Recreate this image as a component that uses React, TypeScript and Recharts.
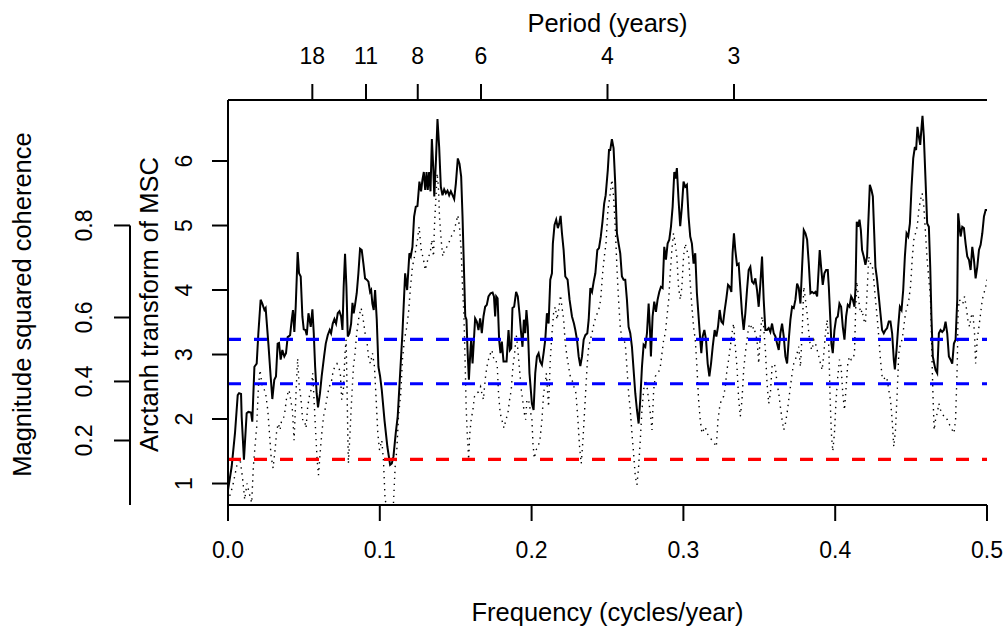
import React from 'react';
import { LineChart, Line, XAxis, YAxis, ReferenceLine } from 'recharts';

// Coherence (arctanh-transformed MSC) vs frequency: [frequency, value]
const solidPoints: [number, number][] = [
  [0.0000,0.90],[0.0024,1.26],[0.0046,1.78],[0.0064,2.37],[0.0073,2.40],[0.0086,2.39],[0.0090,2.04],[0.0105,1.37],
  [0.0123,2.09],[0.0134,2.11],[0.0152,2.10],[0.0160,1.96],[0.0174,2.81],[0.0189,2.86],[0.0200,3.33],[0.0215,3.85],
  [0.0226,3.79],[0.0240,3.69],[0.0248,3.72],[0.0266,3.17],[0.0281,2.66],[0.0292,2.31],[0.0305,2.61],[0.0316,2.66],
  [0.0327,3.17],[0.0336,3.18],[0.0347,2.92],[0.0358,3.07],[0.0371,2.97],[0.0382,3.02],[0.0393,3.27],[0.0409,3.30],
  [0.0420,3.54],[0.0428,3.69],[0.0437,3.35],[0.0446,3.74],[0.0459,4.59],[0.0468,4.26],[0.0479,4.21],[0.0490,3.59],
  [0.0499,3.39],[0.0510,3.38],[0.0519,3.30],[0.0530,3.64],[0.0536,3.56],[0.0545,3.43],[0.0556,3.70],[0.0565,3.33],
  [0.0574,2.81],[0.0584,2.40],[0.0593,2.18],[0.0606,2.40],[0.0617,2.66],[0.0633,2.97],[0.0644,3.17],[0.0657,3.30],
  [0.0670,3.38],[0.0679,3.33],[0.0690,3.48],[0.0701,3.55],[0.0712,3.48],[0.0723,3.64],[0.0734,3.67],[0.0745,3.59],
  [0.0754,3.38],[0.0762,4.05],[0.0771,4.56],[0.0780,4.05],[0.0789,3.28],[0.0800,3.33],[0.0811,3.48],[0.0820,3.80],
  [0.0828,3.64],[0.0837,3.77],[0.0848,3.95],[0.0859,4.26],[0.0870,4.64],[0.0881,4.62],[0.0892,4.41],[0.0903,4.18],
  [0.0914,4.16],[0.0925,4.13],[0.0936,3.97],[0.0943,4.00],[0.0951,3.79],[0.0960,3.69],[0.0969,4.00],[0.0980,3.54],
  [0.0991,2.81],[0.1002,2.66],[0.1013,2.45],[0.1031,1.98],[0.1050,1.57],[0.1068,1.29],[0.1079,1.31],[0.1090,1.42],
  [0.1105,1.78],[0.1118,2.04],[0.1134,2.71],[0.1149,3.33],[0.1167,4.26],[0.1180,4.00],[0.1195,4.57],[0.1204,4.52],
  [0.1215,4.67],[0.1226,5.14],[0.1237,5.29],[0.1248,5.30],[0.1261,5.68],[0.1272,5.53],[0.1281,5.71],[0.1290,5.83],
  [0.1299,5.55],[0.1308,5.83],[0.1316,5.55],[0.1325,5.83],[0.1334,5.53],[0.1343,6.34],[0.1352,5.91],[0.1359,5.45],
  [0.1370,6.02],[0.1380,6.65],[0.1391,6.22],[0.1402,5.60],[0.1413,5.47],[0.1424,5.56],[0.1435,5.50],[0.1446,5.54],
  [0.1457,5.47],[0.1468,5.53],[0.1479,5.47],[0.1490,5.41],[0.1501,5.65],[0.1514,6.04],[0.1525,5.96],[0.1536,5.76],
  [0.1545,5.14],[0.1554,4.36],[0.1563,3.59],[0.1571,3.54],[0.1578,3.07],[0.1587,2.61],[0.1596,3.02],[0.1602,3.23],
  [0.1611,2.86],[0.1620,3.23],[0.1628,3.56],[0.1639,3.51],[0.1650,3.38],[0.1661,3.56],[0.1672,3.33],[0.1683,3.59],
  [0.1694,3.74],[0.1705,3.77],[0.1716,3.90],[0.1730,3.95],[0.1743,3.96],[0.1752,3.90],[0.1760,3.59],[0.1767,3.90],
  [0.1776,3.87],[0.1786,3.23],[0.1795,3.02],[0.1804,3.20],[0.1815,2.89],[0.1826,2.89],[0.1835,2.89],[0.1848,3.38],
  [0.1857,3.07],[0.1866,3.10],[0.1874,3.72],[0.1885,3.74],[0.1898,3.97],[0.1909,3.90],[0.1920,3.64],[0.1931,3.33],
  [0.1940,3.12],[0.1949,3.54],[0.1958,3.33],[0.1966,3.69],[0.1975,3.43],[0.1986,2.71],[0.2002,2.24],[0.2013,2.14],
  [0.2024,2.71],[0.2035,2.97],[0.2046,3.02],[0.2057,2.89],[0.2068,2.84],[0.2079,3.02],[0.2090,3.23],[0.2101,3.64],
  [0.2112,3.48],[0.2123,4.16],[0.2134,4.26],[0.2140,4.72],[0.2151,5.01],[0.2162,5.09],[0.2173,4.96],[0.2182,5.03],
  [0.2191,5.15],[0.2200,4.88],[0.2211,4.62],[0.2222,4.21],[0.2237,4.16],[0.2250,3.85],[0.2266,3.59],[0.2279,3.48],
  [0.2288,3.38],[0.2299,3.23],[0.2310,2.97],[0.2321,2.82],[0.2332,2.97],[0.2343,3.23],[0.2354,3.30],[0.2367,3.33],
  [0.2376,3.54],[0.2387,4.03],[0.2398,3.97],[0.2409,4.13],[0.2420,4.26],[0.2433,4.62],[0.2444,4.65],[0.2456,4.83],
  [0.2467,5.06],[0.2478,5.34],[0.2488,5.47],[0.2502,5.86],[0.2510,6.17],[0.2518,6.17],[0.2529,6.34],[0.2540,6.20],
  [0.2551,5.65],[0.2562,4.88],[0.2573,4.72],[0.2584,4.57],[0.2595,4.21],[0.2606,4.16],[0.2617,4.16],[0.2628,3.85],
  [0.2639,3.43],[0.2650,3.33],[0.2661,3.12],[0.2672,2.76],[0.2683,2.40],[0.2694,2.14],[0.2705,1.93],[0.2716,2.30],
  [0.2727,2.81],[0.2738,3.15],[0.2749,3.12],[0.2760,3.33],[0.2771,3.79],[0.2779,3.43],[0.2786,2.97],[0.2797,3.59],
  [0.2808,3.82],[0.2819,3.66],[0.2830,3.85],[0.2841,3.97],[0.2852,4.05],[0.2863,4.03],[0.2874,4.67],[0.2885,4.47],
  [0.2896,4.72],[0.2907,4.78],[0.2918,4.98],[0.2929,5.29],[0.2940,5.83],[0.2949,5.73],[0.2957,5.89],[0.2968,5.40],
  [0.2979,4.99],[0.2990,5.29],[0.3001,5.68],[0.3012,5.60],[0.3023,5.63],[0.3034,5.14],[0.3045,4.83],[0.3056,4.72],
  [0.3067,4.41],[0.3078,4.57],[0.3089,3.95],[0.3100,3.59],[0.3111,3.23],[0.3118,3.02],[0.3127,3.28],[0.3138,3.38],
  [0.3149,3.23],[0.3160,2.86],[0.3171,2.66],[0.3182,2.86],[0.3193,3.12],[0.3206,3.38],[0.3217,3.28],[0.3228,3.43],
  [0.3239,3.69],[0.3250,3.51],[0.3261,3.48],[0.3272,3.69],[0.3283,3.87],[0.3294,4.08],[0.3305,4.05],[0.3316,3.97],
  [0.3324,4.57],[0.3333,4.88],[0.3342,4.62],[0.3353,4.39],[0.3364,4.41],[0.3375,4.03],[0.3386,3.64],[0.3397,3.38],
  [0.3408,3.64],[0.3419,4.00],[0.3430,4.31],[0.3441,4.36],[0.3452,4.13],[0.3463,4.10],[0.3474,4.18],[0.3485,4.00],
  [0.3496,3.74],[0.3507,4.10],[0.3518,4.52],[0.3529,3.85],[0.3540,3.38],[0.3551,3.38],[0.3562,3.41],[0.3573,3.35],
  [0.3584,3.48],[0.3595,3.33],[0.3606,3.28],[0.3617,3.17],[0.3628,3.07],[0.3639,3.33],[0.3650,3.48],[0.3661,3.28],
  [0.3672,2.97],[0.3683,2.86],[0.3694,3.23],[0.3705,3.54],[0.3716,3.74],[0.3727,3.72],[0.3738,3.85],[0.3749,4.10],
  [0.3760,4.03],[0.3771,3.79],[0.3782,4.36],[0.3793,4.93],[0.3804,4.88],[0.3815,4.78],[0.3826,4.41],[0.3837,3.95],
  [0.3848,3.97],[0.3859,3.95],[0.3870,3.97],[0.3881,3.90],[0.3892,4.36],[0.3898,4.62],[0.3907,4.36],[0.3918,4.08],
  [0.3929,4.26],[0.3940,4.31],[0.3951,4.31],[0.3958,4.05],[0.3967,3.59],[0.3975,3.17],[0.3984,3.02],[0.3995,3.38],
  [0.4006,3.56],[0.4017,3.59],[0.4028,3.79],[0.4039,3.74],[0.4050,3.43],[0.4061,3.23],[0.4072,3.59],[0.4083,3.77],
  [0.4094,3.74],[0.4105,3.90],[0.4116,3.85],[0.4127,3.74],[0.4134,4.05],[0.4142,5.06],[0.4151,4.98],[0.4160,5.09],
  [0.4169,4.93],[0.4177,4.62],[0.4188,4.52],[0.4199,4.39],[0.4210,4.52],[0.4217,4.98],[0.4228,5.63],[0.4239,5.55],
  [0.4248,5.45],[0.4257,4.88],[0.4265,4.36],[0.4276,4.16],[0.4287,3.90],[0.4298,3.64],[0.4309,3.38],[0.4320,3.33],
  [0.4331,3.38],[0.4342,3.41],[0.4353,3.51],[0.4364,3.51],[0.4375,3.33],[0.4386,2.92],[0.4393,2.77],[0.4404,3.07],
  [0.4415,3.43],[0.4426,3.74],[0.4437,3.69],[0.4448,4.00],[0.4459,4.52],[0.4470,4.88],[0.4481,4.83],[0.4492,5.03],
  [0.4503,5.60],[0.4514,6.04],[0.4525,6.22],[0.4533,6.17],[0.4542,6.53],[0.4551,6.38],[0.4560,6.25],[0.4569,6.53],
  [0.4575,6.70],[0.4584,6.38],[0.4595,5.71],[0.4606,5.03],[0.4617,4.98],[0.4626,4.36],[0.4634,3.59],[0.4643,2.97],
  [0.4652,2.86],[0.4661,2.76],[0.4672,2.71],[0.4683,3.33],[0.4694,3.38],[0.4705,3.35],[0.4716,3.38],[0.4727,3.51],
  [0.4738,3.33],[0.4749,2.97],[0.4760,2.92],[0.4771,2.86],[0.4782,3.17],[0.4793,3.23],[0.4804,3.85],[0.4810,5.19],
  [0.4819,4.98],[0.4826,4.83],[0.4837,4.98],[0.4848,4.96],[0.4859,4.72],[0.4870,4.52],[0.4881,4.47],[0.4892,4.31],
  [0.4903,4.67],[0.4914,4.47],[0.4925,4.18],[0.4936,4.36],[0.4947,4.62],[0.4958,4.70],[0.4969,4.88],[0.4980,5.14],
  [0.4991,5.24],[0.5000,5.24],
];

// Second (dotted) series: [frequency, value]
const dottedPoints: [number, number][] = [
  [0.0000,0.72],[0.0030,0.95],[0.0060,1.30],[0.0079,1.39],[0.0095,1.10],[0.0110,0.75],[0.0125,1.00],[0.0140,0.85],
  [0.0156,0.70],[0.0167,1.26],[0.0189,1.88],[0.0200,2.50],[0.0211,2.76],[0.0226,2.50],[0.0240,2.45],[0.0248,2.40],
  [0.0262,2.14],[0.0273,1.78],[0.0284,1.42],[0.0297,1.24],[0.0310,1.52],[0.0321,1.83],[0.0332,1.93],[0.0343,1.83],
  [0.0354,1.99],[0.0371,2.04],[0.0387,2.35],[0.0402,2.45],[0.0413,2.30],[0.0424,2.14],[0.0435,1.67],[0.0442,2.04],
  [0.0450,2.50],[0.0459,2.94],[0.0468,2.55],[0.0481,2.30],[0.0492,1.99],[0.0503,1.99],[0.0514,1.86],[0.0525,2.19],
  [0.0536,2.35],[0.0547,2.45],[0.0558,2.71],[0.0567,2.30],[0.0578,1.78],[0.0587,1.37],[0.0596,1.13],[0.0607,1.47],
  [0.0618,1.78],[0.0629,2.04],[0.0639,2.14],[0.0650,2.30],[0.0666,2.50],[0.0679,2.55],[0.0694,2.76],[0.0705,2.81],
  [0.0718,2.86],[0.0729,2.81],[0.0740,2.71],[0.0749,2.30],[0.0760,2.45],[0.0771,3.02],[0.0778,3.23],[0.0784,2.50],
  [0.0789,1.78],[0.0793,1.31],[0.0804,1.78],[0.0811,2.14],[0.0826,2.81],[0.0837,3.02],[0.0848,3.33],[0.0863,3.59],
  [0.0877,3.72],[0.0888,3.59],[0.0903,3.33],[0.0914,3.23],[0.0925,2.97],[0.0938,2.86],[0.0952,3.02],[0.0965,2.81],
  [0.0976,2.30],[0.0987,1.78],[0.0998,1.52],[0.1013,1.67],[0.1024,1.37],[0.1035,0.75],[0.1057,0.54],[0.1090,0.69],
  [0.1101,1.26],[0.1112,1.52],[0.1123,2.04],[0.1138,2.40],[0.1149,2.92],[0.1162,3.23],[0.1178,3.43],[0.1189,3.64],
  [0.1202,4.05],[0.1215,4.36],[0.1233,4.57],[0.1248,4.78],[0.1259,4.98],[0.1273,4.62],[0.1288,4.47],[0.1299,4.31],
  [0.1310,4.41],[0.1321,4.52],[0.1332,4.57],[0.1343,4.78],[0.1354,4.52],[0.1360,4.98],[0.1369,5.40],[0.1378,5.81],
  [0.1387,5.55],[0.1393,5.14],[0.1404,4.78],[0.1415,4.52],[0.1426,4.62],[0.1442,4.67],[0.1453,4.72],[0.1470,4.83],
  [0.1486,4.88],[0.1501,5.03],[0.1514,5.16],[0.1525,4.98],[0.1536,4.62],[0.1545,4.05],[0.1554,3.64],[0.1563,2.81],
  [0.1569,2.19],[0.1576,1.78],[0.1585,1.37],[0.1593,1.78],[0.1602,1.99],[0.1613,2.14],[0.1624,2.35],[0.1635,2.40],
  [0.1650,2.42],[0.1664,2.50],[0.1672,2.40],[0.1683,2.30],[0.1694,2.61],[0.1705,2.81],[0.1721,2.97],[0.1738,3.07],
  [0.1752,2.92],[0.1765,2.92],[0.1774,2.81],[0.1782,2.40],[0.1793,2.09],[0.1804,1.99],[0.1818,1.86],[0.1831,1.99],
  [0.1844,2.09],[0.1855,2.30],[0.1866,2.45],[0.1877,2.81],[0.1888,3.02],[0.1899,3.30],[0.1908,3.12],[0.1919,2.81],
  [0.1932,2.45],[0.1941,2.30],[0.1952,2.09],[0.1961,1.99],[0.1969,2.30],[0.1980,2.30],[0.1991,2.14],[0.2002,1.99],
  [0.2009,1.62],[0.2018,1.39],[0.2029,1.52],[0.2042,1.57],[0.2055,1.67],[0.2068,1.99],[0.2079,2.40],[0.2090,2.55],
  [0.2097,2.71],[0.2103,2.50],[0.2112,2.19],[0.2123,2.92],[0.2134,3.33],[0.2145,3.64],[0.2156,3.74],[0.2167,3.54],
  [0.2178,3.69],[0.2191,3.92],[0.2200,3.74],[0.2211,3.54],[0.2222,3.17],[0.2233,2.97],[0.2244,2.81],[0.2255,2.66],
  [0.2266,2.61],[0.2279,2.50],[0.2292,2.40],[0.2305,1.99],[0.2316,1.57],[0.2327,1.31],[0.2338,1.67],[0.2347,2.04],
  [0.2358,2.50],[0.2367,2.86],[0.2376,3.12],[0.2387,3.23],[0.2398,3.33],[0.2411,3.48],[0.2424,3.59],[0.2442,3.69],
  [0.2455,3.85],[0.2468,4.26],[0.2479,4.52],[0.2490,4.72],[0.2503,5.24],[0.2518,5.50],[0.2529,5.71],[0.2540,5.45],
  [0.2551,4.98],[0.2562,4.36],[0.2573,3.85],[0.2584,3.43],[0.2595,3.23],[0.2606,3.23],[0.2617,3.17],[0.2628,2.81],
  [0.2639,2.40],[0.2650,2.14],[0.2661,1.78],[0.2672,1.47],[0.2683,1.11],[0.2694,0.98],[0.2705,1.26],[0.2716,1.67],
  [0.2727,2.14],[0.2738,2.45],[0.2749,2.61],[0.2760,2.50],[0.2771,2.30],[0.2782,2.09],[0.2793,1.83],[0.2804,2.45],
  [0.2815,2.66],[0.2826,2.71],[0.2837,2.73],[0.2848,2.81],[0.2859,3.02],[0.2870,3.23],[0.2881,3.33],[0.2892,3.59],
  [0.2903,3.85],[0.2913,4.26],[0.2924,4.62],[0.2935,4.88],[0.2946,4.72],[0.2957,4.52],[0.2968,4.05],[0.2979,3.85],
  [0.2990,4.05],[0.3001,4.52],[0.3012,4.72],[0.3023,4.62],[0.3034,4.52],[0.3045,4.10],[0.3056,3.74],[0.3067,3.43],
  [0.3078,3.23],[0.3089,2.81],[0.3100,2.30],[0.3111,1.99],[0.3122,1.78],[0.3133,1.83],[0.3144,1.88],[0.3155,1.78],
  [0.3171,1.73],[0.3188,1.67],[0.3204,1.62],[0.3217,1.57],[0.3228,1.99],[0.3239,2.19],[0.3250,2.30],[0.3265,2.35],
  [0.3276,2.50],[0.3287,2.76],[0.3298,2.92],[0.3309,3.12],[0.3320,3.33],[0.3331,3.48],[0.3342,3.12],[0.3353,2.81],
  [0.3364,2.30],[0.3375,2.04],[0.3386,2.30],[0.3397,2.76],[0.3408,3.02],[0.3419,3.23],[0.3430,3.43],[0.3441,3.48],
  [0.3452,3.38],[0.3463,3.43],[0.3474,3.33],[0.3485,3.23],[0.3496,2.86],[0.3507,3.33],[0.3518,3.59],[0.3529,3.43],
  [0.3540,3.07],[0.3551,2.55],[0.3562,2.24],[0.3573,2.40],[0.3584,2.81],[0.3595,2.86],[0.3606,2.81],[0.3617,2.55],
  [0.3628,2.40],[0.3639,2.19],[0.3650,1.99],[0.3661,1.83],[0.3672,1.93],[0.3683,2.09],[0.3694,2.30],[0.3705,2.50],
  [0.3716,2.71],[0.3727,2.86],[0.3738,2.92],[0.3749,3.02],[0.3760,3.12],[0.3771,2.81],[0.3782,3.33],[0.3793,4.05],
  [0.3804,3.85],[0.3815,3.64],[0.3826,3.33],[0.3837,3.12],[0.3848,3.07],[0.3859,3.23],[0.3870,3.17],[0.3881,3.07],
  [0.3892,2.97],[0.3903,2.86],[0.3914,2.76],[0.3925,3.02],[0.3936,3.33],[0.3947,3.54],[0.3958,3.12],[0.3967,2.30],
  [0.3975,1.78],[0.3984,1.50],[0.3995,1.78],[0.4006,2.30],[0.4017,2.66],[0.4028,2.92],[0.4039,2.81],[0.4050,2.40],
  [0.4061,2.14],[0.4072,2.50],[0.4083,2.86],[0.4094,2.97],[0.4105,2.92],[0.4116,2.92],[0.4127,3.02],[0.4134,3.64],
  [0.4142,4.13],[0.4151,3.95],[0.4160,3.74],[0.4169,3.64],[0.4177,3.69],[0.4188,3.54],[0.4199,3.48],[0.4210,3.95],
  [0.4221,4.52],[0.4232,4.41],[0.4243,4.41],[0.4254,4.16],[0.4265,3.85],[0.4276,3.59],[0.4287,3.28],[0.4298,2.92],
  [0.4309,2.66],[0.4320,2.61],[0.4331,2.66],[0.4342,2.61],[0.4353,2.45],[0.4364,2.30],[0.4375,1.99],[0.4386,1.57],
  [0.4397,1.83],[0.4408,2.40],[0.4419,3.02],[0.4430,3.17],[0.4441,3.23],[0.4452,3.43],[0.4463,3.64],[0.4474,3.74],
  [0.4485,3.85],[0.4496,4.05],[0.4507,4.47],[0.4518,4.78],[0.4529,4.88],[0.4540,4.98],[0.4551,5.24],[0.4562,5.40],
  [0.4573,5.50],[0.4584,5.29],[0.4595,4.88],[0.4606,4.47],[0.4617,4.16],[0.4628,3.85],[0.4634,3.33],[0.4639,2.81],
  [0.4645,2.30],[0.4652,1.83],[0.4661,1.99],[0.4672,2.09],[0.4683,2.24],[0.4694,2.14],[0.4705,2.09],[0.4716,2.04],
  [0.4727,2.04],[0.4738,1.99],[0.4749,1.93],[0.4760,1.88],[0.4771,1.83],[0.4782,1.78],[0.4793,1.99],[0.4804,2.81],
  [0.4810,3.69],[0.4819,3.85],[0.4830,3.79],[0.4841,3.79],[0.4852,3.90],[0.4863,3.74],[0.4874,3.54],[0.4885,3.43],
  [0.4896,3.59],[0.4907,3.64],[0.4918,3.33],[0.4925,2.86],[0.4936,3.23],[0.4947,3.43],[0.4958,3.64],[0.4969,3.85],
  [0.4980,3.95],[0.4991,4.05],[0.5000,4.16],
];

const freqTicks = [0, 0.1, 0.2, 0.3, 0.4, 0.5];
const periodTicks = [18, 11, 8, 6, 4, 3];
const arctanhTicks = [1, 2, 3, 4, 5, 6];
const mscTicks = [0.2, 0.4, 0.6, 0.8];
const redLevels = [1.375];
const blueLevels = [2.547, 3.236];

const Y_MIN = 0.667;
const Y_MAX = 6.946;
const PLOT_H = 405;
const FONT = '"Liberation Sans", Arial, Helvetica, sans-serif';
const FS = 23;
const FS_TITLE = 25.5;

const mscToArctanh = (m: number) => Math.sqrt(12) * Math.atanh(Math.sqrt(m));
const mscTickPos = mscTicks.map(mscToArctanh);

const rows = [
  ...solidPoints.map(([f, v]) => ({ f, solid: v })),
  ...dottedPoints.map(([f, v]) => ({ f, dotted: v })),
].sort((a, b) => a.f - b.f);

const txt = { fontFamily: FONT, fontSize: FS, fill: '#000' } as const;
const ttl = { fontFamily: FONT, fontSize: FS_TITLE, fill: '#000' } as const;
const axStroke = { stroke: '#000', strokeWidth: 2 };

const BottomTick = (p: any) => (
  <text x={p.x} y={p.y + 37} textAnchor="middle" {...txt}>{Number(p.payload.value).toFixed(1)}</text>
);
const TopTick = (p: any) => {
  const v = p.payload.value;
  const idx = periodTicks.findIndex((q) => Math.abs(1 / q - v) < 1e-6);
  return <text x={p.x} y={p.y - 20} textAnchor="middle" {...txt}>{idx >= 0 ? periodTicks[idx] : ''}</text>;
};
const InnerTick = (p: any) => {
  const x = p.x - 20;
  return <text x={x} y={p.y} transform={`rotate(-90 ${x} ${p.y})`} textAnchor="middle" {...txt}>{p.payload.value}</text>;
};
const OuterTick = (p: any) => {
  const x = p.x - 22;
  const v = p.payload.value;
  let best = 0;
  mscTickPos.forEach((t, i) => { if (Math.abs(t - v) < Math.abs(mscTickPos[best] - v)) best = i; });
  return <text x={x} y={p.y} transform={`rotate(-90 ${x} ${p.y})`} textAnchor="middle" {...txt}>{mscTicks[best].toFixed(1)}</text>;
};

const outerGap = ((Y_MAX - mscTickPos[mscTickPos.length - 1]) / (Y_MAX - Y_MIN)) * PLOT_H;

export default function App() {
  return (
    <div style={{ position: 'absolute', left: 0, top: 0, width: 1007, height: 630, background: '#fff' }}>
      <LineChart width={1007} height={630} data={rows} margin={{ top: 0, right: 20, bottom: 0, left: 0 }}>
        <XAxis
          xAxisId="bottom" dataKey="f" type="number" domain={[0, 0.5]} allowDataOverflow
          ticks={freqTicks} interval={0} height={125} tickSize={16} tickMargin={0}
          axisLine={axStroke} tickLine={axStroke} tick={BottomTick}
          label={(lp: any) => {
            const vb = lp.viewBox || {};
            return <text x={vb.x + vb.width / 2} y={vb.y + 116} textAnchor="middle" {...ttl}>Frequency (cycles/year)</text>;
          }}
        />
        <XAxis
          xAxisId="top" orientation="top" dataKey="f" type="number" domain={[0, 0.5]} allowDataOverflow
          ticks={periodTicks.map((p) => 1 / p)} interval={0} height={100} tickSize={16} tickMargin={0}
          axisLine={axStroke} tickLine={axStroke} tick={TopTick}
          label={(lp: any) => {
            const vb = lp.viewBox || {};
            return <text x={vb.x + vb.width / 2} y={vb.y + 32} textAnchor="middle" {...ttl}>Period (years)</text>;
          }}
        />
        <YAxis
          yAxisId="inner" type="number" domain={[Y_MIN, Y_MAX]} allowDataOverflow
          ticks={arctanhTicks} interval={0} width={98} tickSize={16} tickMargin={0}
          axisLine={axStroke} tickLine={axStroke} tick={InnerTick}
          label={(lp: any) => {
            const vb = lp.viewBox || {};
            const x = vb.x + 28;
            const y = vb.y + vb.height / 2 + 2;
            return <text x={x} y={y} transform={`rotate(-90 ${x} ${y})`} textAnchor="middle" {...ttl}>Arctanh transform of MSC</text>;
          }}
        />
        <YAxis
          yAxisId="outer" type="number" domain={[Y_MIN, Y_MAX]} allowDataOverflow
          ticks={mscTickPos} interval={0} width={130} tickSize={16} tickMargin={0}
          axisLine={{ ...axStroke, strokeDasharray: `0 ${outerGap} ${PLOT_H}` }} tickLine={axStroke} tick={OuterTick}
          label={(lp: any) => {
            const vb = lp.viewBox || {};
            const x = vb.x + 31;
            const y = vb.y + vb.height / 2 + 2;
            return <text x={x} y={y} transform={`rotate(-90 ${x} ${y})`} textAnchor="middle" {...ttl}>Magnitude squared coherence</text>;
          }}
        />
        <YAxis
          yAxisId="right" orientation="right" type="number" domain={[Y_MIN, Y_MAX]} allowDataOverflow
          width={0} tick={false} tickLine={false} axisLine={axStroke}
        />
        <Line
          xAxisId="bottom" yAxisId="inner" dataKey="dotted" type="linear" stroke="#000" strokeWidth={1.4}
          strokeDasharray="1.4 4.6" dot={false} connectNulls isAnimationActive={false}
        />
        <Line
          xAxisId="bottom" yAxisId="inner" dataKey="solid" type="linear" stroke="#000" strokeWidth={2}
          dot={false} connectNulls isAnimationActive={false}
        />
        {redLevels.map((y) => (
          <ReferenceLine key={`r${y}`} xAxisId="bottom" yAxisId="inner" y={y} stroke="#FF0000" strokeWidth={3.2} strokeDasharray="13 13" />
        ))}
        {blueLevels.map((y) => (
          <ReferenceLine key={`b${y}`} xAxisId="bottom" yAxisId="inner" y={y} stroke="#0000FF" strokeWidth={3.2} strokeDasharray="13 13" />
        ))}
      </LineChart>
    </div>
  );
}
